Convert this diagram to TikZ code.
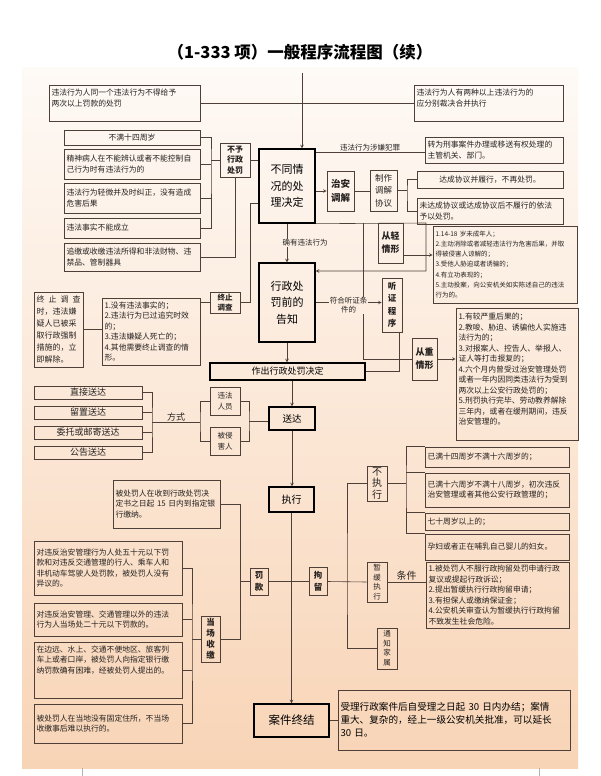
\documentclass[tikz,border=0pt]{standalone}
\usepackage{fontspec}
\setmainfont{Noto Sans CJK SC}
\usepackage{xcolor}
\usepackage{tikz}
\usetikzlibrary{positioning}

\definecolor{fondoA}{RGB}{254,250,246}
\definecolor{fondoB}{RGB}{248,212,182}
\definecolor{linea}{RGB}{78,64,56}
\definecolor{texto}{RGB}{38,34,32}

\begin{document}
\begin{tikzpicture}[x=1pt, y=-1pt, >=stealth, line width=0.6pt, color=linea,
  every node/.style={text=texto, font=\fontsize{7.8}{10.5}\selectfont},
  caja/.style 2 args={draw=linea, inner sep=0pt, minimum width=#1, minimum height=#2, text width=#1-5pt, align=left},
  cajac/.style 2 args={caja={#1}{#2}, align=center},
  tag/.style 2 args={draw=linea, inner sep=0pt, minimum width=#1, minimum height=#2, align=center, font=\fontsize{8}{10.5}\selectfont\bfseries},
  main/.style 2 args={draw=black, line width=1.4pt, inner sep=0pt, minimum width=#1, minimum height=#2, align=center, text=black, font=\fontsize{11}{16.5}\selectfont},
  lbl/.style={font=\fontsize{7.5}{9}\selectfont, inner sep=1pt, align=center}]
% Fondo
\useasboundingbox (0,0) rectangle (600,776);
\shade[top color=fondoA, bottom color=fondoB] (22,68) rectangle (578,768);
\draw[gray!60, line width=0.5pt] (82,768) -- (82,776) (539,768) -- (539,776);
\node[text=black, font=\fontsize{16.5}{18}\selectfont\bfseries] (titulo) at (300,52) {（1-333 项）一般程序流程图（续）};
% Cajas
\node[caja={151}{36}] (tl) at (124.5,103) {违法行为人同一个违法行为不得给予\\两次以上罚款的处罚\\ \mbox{}};
\node[caja={149}{36}] (tr) at (488.5,103) {违法行为人有两种以上违法行为的\\应分别裁决合并执行\\ \mbox{}};
\node[cajac={136}{15}] (n1) at (132,137.5) {不满十四周岁};
\node[caja={136}{30}] (n2) at (132,164) {精神病人在不能辨认或者不能控制自\\己行为时有违法行为的};
\node[caja={136}{30}] (n3) at (132,198) {违法行为轻微并及时纠正，没有造成\\危害后果};
\node[caja={136}{20}] (n4) at (132,228) {违法事实不能成立};
\node[caja={136}{28}] (n5) at (132,257) {追缴或收缴违法所得和非法财物、违\\禁品、管制器具};
\node[tag={30}{34}] (byzf) at (235,160) {不予\\行政\\处罚};
\node[main={56}{74}] (bt) at (287,186) {不同情\\况的处\\理决定};
\node[caja={138}{26}] (xs) at (494,150) {转为刑事案件办理或移送有权处理的\\主管机关、部门。};
\node[tag={27}{40}, font=\fontsize{9.5}{14}\selectfont\bfseries] (za) at (340.5,191) {治安\\调解};
\node[draw=linea, inner sep=0pt, minimum width=27, minimum height=41, align=center, font=\fontsize{8.5}{12.5}\selectfont] (zz) at (383.5,190.5) {制作\\调解\\协议};
\node[cajac={146}{17}] (ok1) at (490,179.5) {达成协议并履行，不再处罚。};
\node[caja={146}{26}] (ok2) at (490,211) {未达成协议或达成协议后不履行的依法\\予以处罚。};
\node[main={56}{79}] (gz) at (287,302.5) {行政处\\罚前的\\告知};
\node[tag={30}{21}, font=\fontsize{7.5}{9.5}\selectfont\bfseries] (zzd) at (225,302.5) {终止\\调查};
\node[caja={98}{67}] (zl) at (151,331.5) {1.没有违法事实的；\\2.违法行为已过追究时效\\的；\\3.违法嫌疑人死亡的；\\4.其他需要终止调查的情\\形。};
\node[caja={49}{75}, font=\fontsize{8}{12}\selectfont] (zj) at (58.5,329.5) {终\hfill 止\hfill 调\hfill 查\\时，违法嫌\\疑人已被采\\取行政强制\\措施的，立\\即解除。};
\node[tag={25}{40}, font=\fontsize{9}{13}\selectfont\bfseries] (cq) at (390.5,243) {从轻\\情形};
\node[caja={144}{77}, font=\fontsize{6.5}{10.2}\selectfont] (l1) at (505,264.5) {1.14-18 岁未成年人；\\2.主动消除或者减轻违法行为危害后果，并取\\得被侵害人谅解的；\\3.受他人胁迫或者诱骗的；\\4.有立功表现的；\\5.主动投案，向公安机关如实陈述自己的违法\\行为的。};
\node[tag={20}{54}, font=\fontsize{8.5}{12.5}\selectfont\bfseries] (tz) at (392,305) {听\\证\\程\\序};
\node[tag={25}{42}, font=\fontsize{9}{13}\selectfont\bfseries] (cz) at (424.5,359) {从重\\情形};
\node[caja={122}{132}] (l2) at (517,374) {1.有较严重后果的；\\2.教唆、胁迫、诱骗他人实施违\\法行为的；\\3.对报案人、控告人、举报人、\\证人等打击报复的；\\4.六个月内曾受过治安管理处罚\\或者一年内因同类违法行为受到\\两次以上公安行政处罚的；\\5.刑罚执行完毕、劳动教养解除\\三年内，或者在缓刑期间，违反\\治安管理的。\\ \mbox{}};
\node[main={155}{17}, font=\fontsize{9}{11}\selectfont] (zc) at (287.5,371.5) {作出行政处罚决定};
\node[cajac={108}{13}, font=\fontsize{9}{10}\selectfont] (d1) at (88,392.5) {直接送达};
\node[cajac={108}{13}, font=\fontsize{9}{10}\selectfont] (d2) at (88,412.5) {留置送达};
\node[cajac={108}{13}, font=\fontsize{9}{10}\selectfont] (d3) at (88,432.5) {委托或邮寄送达};
\node[cajac={108}{13}, font=\fontsize{9}{10}\selectfont] (d4) at (88,452.5) {公告送达};
\node[draw=linea, inner sep=0pt, minimum width=30, minimum height=28, align=center, font=\fontsize{7.5}{11}\selectfont] (r1) at (225,401) {违法\\人员};
\node[draw=linea, inner sep=0pt, minimum width=30, minimum height=28, align=center, font=\fontsize{7.5}{11}\selectfont] (r2) at (225,441) {被侵\\害人};
\node[main={46}{23}, font=\fontsize{9.5}{11}\selectfont] (sd) at (292,418.5) {送达};
\node[main={45}{25}, font=\fontsize{10}{12}\selectfont] (zhx) at (291.5,499.5) {执行};
\node[caja={107}{48}] (fb) at (166.5,504) {被处罚人在收到行政处罚决\\定书之日起 15 日内到指定银\\行缴纳。};
\node[tag={18}{27}, font=\fontsize{8.5}{12}\selectfont\bfseries] (fk) at (259,581.5) {罚\\款};
\node[tag={18}{28}, font=\fontsize{8.5}{12}\selectfont\bfseries] (jl) at (318,581.5) {拘\\留};
\node[tag={19}{46}, font=\fontsize{8.5}{11}\selectfont\bfseries] (dc) at (210.5,639) {当\\场\\收\\缴};
\node[caja={148}{54}] (ba) at (108,568) {对违反治安管理行为人处五十元以下罚\\款和对违反交通管理的行人、乘车人和\\非机动车驾驶人处罚款，被处罚人没有\\异议的。};
\node[caja={148}{33}] (bb) at (108,619.5) {对违反治安管理、交通管理以外的违法\\行为人当场处二十元以下罚款的。};
\node[caja={148}{56}] (bc) at (108,670) {在边远、水上、交通不便地区、旅客列\\车上或者口岸，被处罚人向指定银行缴\\纳罚款确有困难，经被处罚人提出的。\\ \mbox{}\\ \mbox{}};
\node[caja={148}{39}] (bd) at (108,723.5) {被处罚人在当地没有固定住所，不当场\\收缴事后难以执行的。};
\node[draw=linea, inner sep=0pt, minimum width=20, minimum height=35, align=center, font=\fontsize{10}{11.5}\selectfont] (bz) at (377,483.5) {不\\执\\行};
\node[draw=linea, inner sep=0pt, minimum width=20, minimum height=40, align=center, font=\fontsize{7.5}{9.5}\selectfont] (hz) at (377,582) {暂\\缓\\执\\行};
\node[draw=linea, inner sep=0pt, minimum width=20, minimum height=41, align=center, font=\fontsize{7.5}{9.5}\selectfont] (tzjs) at (387,648.5) {通\\知\\家\\属};
\node[caja={144}{20}] (e1) at (497,457) {已满十四周岁不满十六周岁的；};
\node[caja={144}{34}] (e2) at (497,490) {已满十六周岁不满十八周岁，初次违反\\治安管理或者其他公安行政管理的；};
\node[caja={144}{17}] (e3) at (497,521.5) {七十周岁以上的；};
\node[caja={144}{26}] (e4) at (497,547) {孕妇或者正在哺乳自己婴儿的妇女。};
\node[caja={143}{66}] (tj) at (497.5,595) {1.被处罚人不服行政拘留处罚申请行政\\复议或提起行政诉讼；\\2.提出暂缓执行行政拘留申请；\\3.有担保人或缴纳保证金；\\4.公安机关审查认为暂缓执行行政拘留\\不致发生社会危险。};
\node[main={75}{33}, font=\fontsize{11.5}{13}\selectfont] (aj) at (291.5,720.5) {案件终结};
\node[caja={232}{60}, font=\fontsize{9.6}{13}\selectfont, text=black] (ajt) at (454,720) {受理行政案件后自受理之日起 30 日内办结；案情\\重大、复杂的，经上一级公安机关批准，可以延长\\30 日。};
% Conexiones
\coordinate (arriba) at (302,73);
\coordinate (b1) at (211,160);
\coordinate (b2) at (407,191);
\coordinate (b3) at (250,203);
\coordinate (c1) at (363,223);
\coordinate (c2) at (426,223);
\coordinate (c3) at (426,271);
\coordinate (b4) at (152,422.5);
\coordinate (b5) at (200,422.5);
\coordinate (b6) at (249,421);
\coordinate (b7) at (240,504);
\coordinate (b8) at (192,639);
\coordinate (b9) at (347,582);
\coordinate (b10) at (406,483.5);
\draw[->] (arriba) -- (arriba |- bt.north);
\draw (tl.east) -- (tr.west);
\draw (n1.east) -| (b1) |- (n4.east);
\draw (n2.east) -- (n2.east -| b1);
\draw (n3.east) -- (n3.east -| b1);
\draw (b1) -- (byzf.west);
\draw (n5.east) -| (byzf.south);
\draw (byzf.east) -- (byzf.east -| bt.west);
\draw ([yshift=-4pt]bt.north east) -- node[lbl, above] {违法行为涉嫌犯罪} ([yshift=-4pt]bt.north east -| xs.west);
\draw[->] (bt.east |- za.west) -- (za.west);
\draw (za.east) -- (za.east -| zz.west);
\draw (zz.east) -- (zz.east -| b2);
\draw (ok1.west) -| (b2) |- (ok2.west);
\draw[->] (bt.south) -- node[lbl, fill=fondoB!25!fondoA, xshift=18pt] {确有违法行为} (gz.north);
\draw[->] (bt.south east) -- (c2) -- (c3) -- (c3 -| gz.east);
\draw (c1) |- (cz.west);
\draw[->] ([yshift=-12pt]cq.east) -- ([yshift=-12pt]cq.east -| l1.west);
\draw (b3 -| bt.west) -- (b3) |- (zzd.east);
\draw (zl.east |- zzd.west) -- (zzd.west);
\draw (zj.east) -- (zj.east -| zl.west);
\draw[->] (gz.east) -- node[lbl, fill=fondoB!34!fondoA, yshift=-3pt] {符合听证条\\件的} (gz.east -| tz.west);
\draw ([xshift=7pt]tz.south) |- (zc.east);
\draw[->] (cz.east) -- (cz.east -| l2.west);
\draw[->] (gz.south) -- (gz.south |- zc.north);
\draw[->] (zc.south -| sd.north) -- (sd.north);
\draw (d1.east) -| (b4) |- (d4.east);
\draw (d2.east) -- (d2.east -| b4);
\draw (d3.east) -- (d3.east -| b4);
\draw (b4) -- node[lbl, above, font=\fontsize{9}{10}\selectfont] {方式} (b5);
\draw (r1.west) -| (b5) |- (r2.west);
\draw (r1.east) -| (b6) |- (r2.east);
\draw (b6) -- (b6 -| sd.west);
\draw[->] (sd.south) -- (sd.south |- zhx.north);
\draw[->] (zhx.south) -- (zhx.south |- aj.north);
\draw (fk.east) -- (jl.west);
\draw (fb.east) -- (b7) |- (dc.east);
\draw (fk.west) -- (fk.west -| b7);
\draw (ba.east) -| (b8) |- (bd.east);
\draw (bb.east) -- (bb.east -| b8);
\draw (bc.east) -- (bc.east -| b8);
\draw (b8) -- (dc.west);
\draw (jl.east) -- (hz.west);
\draw (bz.west) -| (b9) |- (tzjs.west);
\draw (hz.east) -- node[lbl, above, font=\fontsize{10}{11}\selectfont] {条件} (hz.east -| tj.west);
\draw (bz.east) -- (b10);
\draw (e1.north west) -| (b10) |- (e4.north west);
\draw (e2.north west) -- (e2.north west -| b10);
\draw (e3.north west) -- (e3.north west -| b10);
\draw (aj.east) -- (aj.east -| ajt.west);
\end{tikzpicture}
\end{document}
